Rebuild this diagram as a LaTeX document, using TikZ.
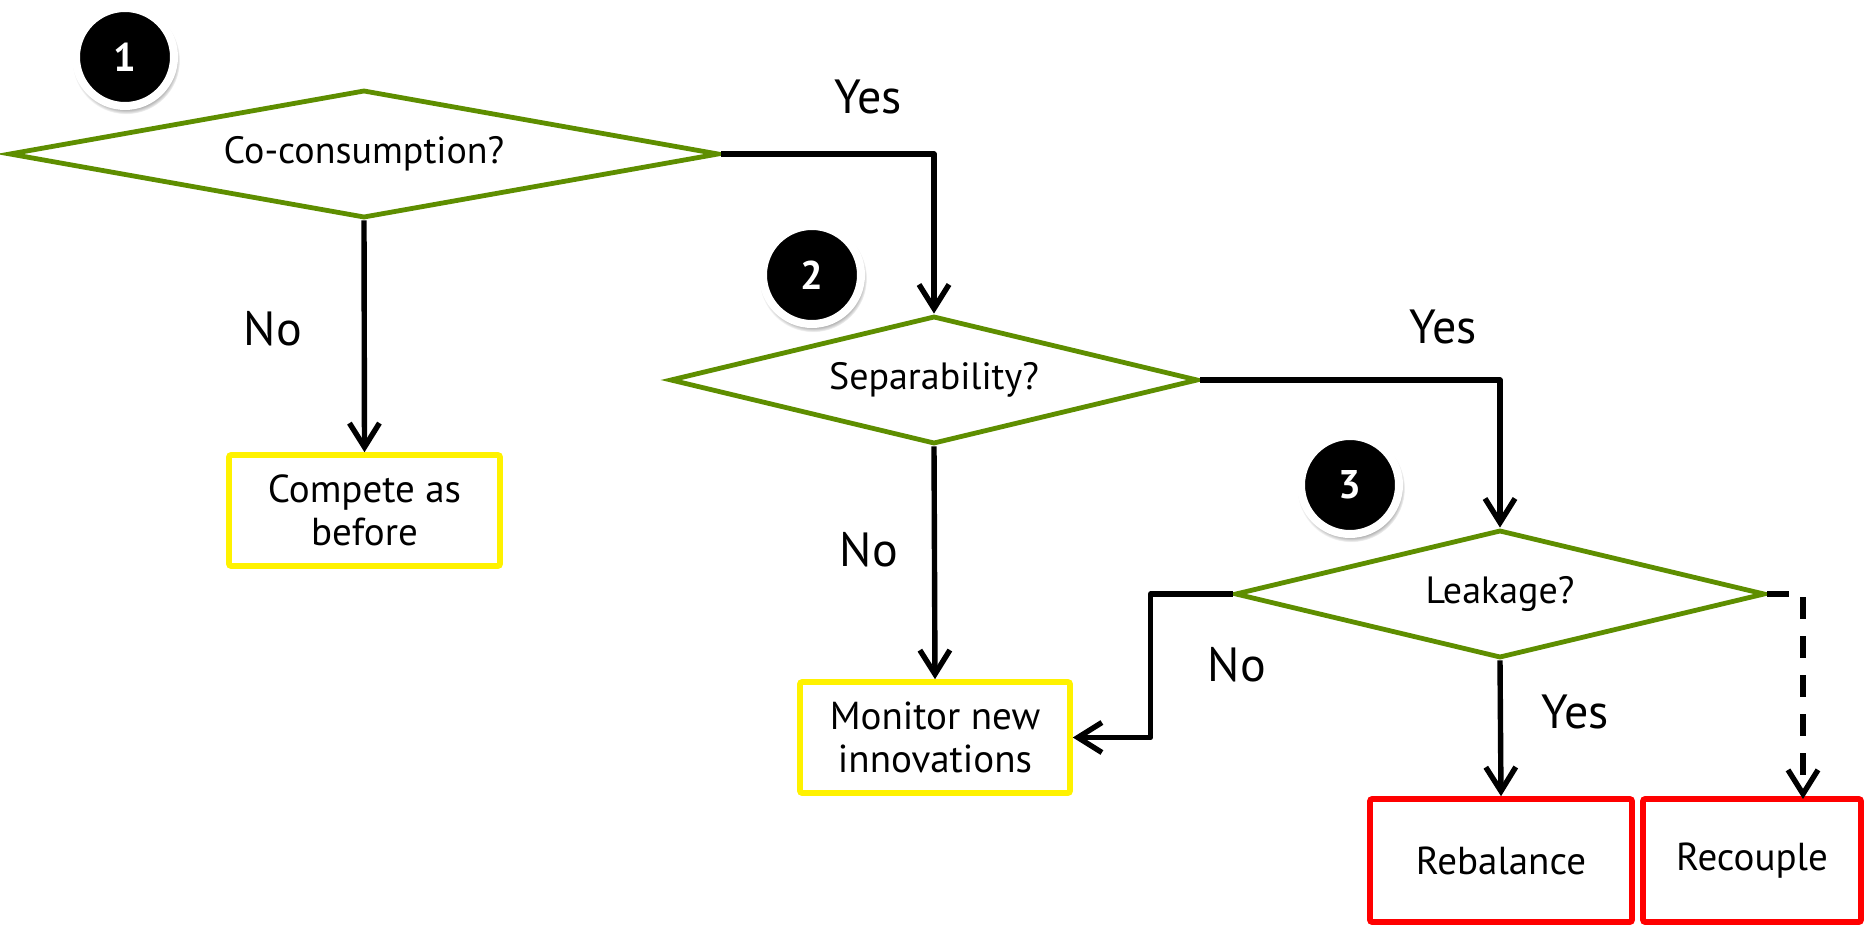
\documentclass[tikz,border=0pt]{standalone}
\usepackage{fontspec}
\setmainfont{PT Sans}
\usetikzlibrary{shapes.geometric,arrows.meta,shadows}
\definecolor{dgreen}{RGB}{94,142,0}
\begin{document}
\begin{tikzpicture}[x=0.5pt,y=-0.5pt,
  decision/.style={diamond, draw=dgreen, line width=2.4pt, fill=white, inner sep=0pt,
    font=\fontsize{19}{22}\selectfont},
  outcome/.style={rectangle, draw=#1, line width=2.8pt, rounded corners=1pt, fill=white,
    align=center, inner sep=0pt, font=\fontsize{19.5}{21.5}\selectfont},
  badge/.style={circle, fill=black, draw=white, line width=4pt, minimum size=49pt, inner sep=0pt,
    text=white, font=\bfseries\fontsize{20}{20}\selectfont,
    circular drop shadow={shadow xshift=0.5pt, shadow yshift=-1.5pt, shadow scale=1.1}},
  conn/.style={line width=2.7pt, line join=round,
    -{Straight Barb[length=12pt,width=15pt,line width=2.7pt]}},
  lbl/.style={font=\fontsize{24}{24}\selectfont}
]
\useasboundingbox (0,0) rectangle (1864,925);

% decisions
\node[decision, shape aspect=5.55, minimum width=355pt, minimum height=64pt] (q1) at (364,154) {Co-consumption?};
\node[decision, shape aspect=4.12, minimum width=264pt, minimum height=64pt] (q2) at (934,380) {Separability?};
\node[decision, shape aspect=4.14, minimum width=265pt, minimum height=64pt] (q3) at (1500,594) {Leakage?};

% outcomes
\node[outcome=yellow, minimum width=135.5pt, minimum height=55.5pt] (compete) at (364.5,510.5) {Compete as\\before};
\node[outcome=yellow, minimum width=135pt, minimum height=55.5pt] (monitor) at (935,737.5) {Monitor new\\innovations};
\node[outcome=red, minimum width=131pt, minimum height=61.5pt] (rebal) at (1501,860.5) {\raisebox{-3pt}{Rebalance}};
\node[outcome=red, minimum width=109pt, minimum height=61.5pt] (recoup) at (1752,860.5) {\raisebox{-3pt}{Recouple}};

% numbered badges
\node[badge] (b1) at (125,57) {1};
\node[badge] (b2) at (812,275) {2};
\node[badge] (b3) at (1350,485) {3};

% connectors
\draw[conn] (q1.east) -| (q2.north);
\draw[conn] (q1.south) -- (compete.north);
\draw[conn] (q2.east) -| (q3.north);
\draw[conn] (q2.south) -- (monitor.north);
\draw[conn] (q3.west) -- ++(-82,0) |- (monitor.east);
\draw[conn] (q3.south) -- (rebal.north);
\coordinate (rtop) at (1803,799);
\draw[conn, dash pattern=on 11pt off 8.5pt] (q3.east) -| (rtop);

% branch labels
\node[lbl] (y1) at (868,97) {Yes};
\node[lbl] (n1) at (273,329) {No};
\node[lbl] (y2) at (1443,327) {Yes};
\node[lbl] (n2) at (869,550) {No};
\node[lbl] (n3) at (1237,665) {No};
\node[lbl] (y3) at (1575,712) {Yes};
\end{tikzpicture}
\end{document}
